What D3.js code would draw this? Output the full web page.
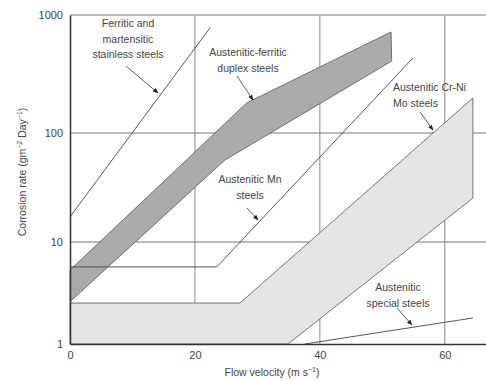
<!DOCTYPE html>
<html>
<head>
<meta charset="utf-8">
<script src="https://cdn.jsdelivr.net/npm/d3@7"></script>
<style>
  body { margin: 0; background: #fff; }
  text { font-family: "Liberation Sans", Arial, sans-serif; fill: #444; }
</style>
</head>
<body>
<div id="chart"></div>
<script>
// flow velocity (m/s) vs corrosion rate (g m-2 day-1)
const xTicks = [0, 20, 40, 60]
const yTicks = [1, 10, 100, 1000]

const ferritic = [[0, 17], [22.5, 790]]
const duplexUpper = [[0, 5.3], [28.3, 180], [51.4, 718]]
const duplexLower = [[0, 2.6], [24.8, 56.5], [51.5, 407]]
const mnSteel = [[0, 5.7], [23.5, 5.7], [54.9, 432]]
const crNiMoUpper = [[0, 2.52], [27.2, 2.52], [64.5, 198]]
const crNiMoLower = [[0, 1], [34.9, 1], [64.5, 25.3]]
const special = [[37.6, 1], [64.5, 1.8]]

const width = 486, height = 381

const svg = d3.select('#chart').append('svg')
  .attr('width', width)
  .attr('height', height)

svg.append('defs').append('marker')
  .attr('id', 'arrow')
  .attr('viewBox', '0 0 10 10')
  .attr('refX', 9).attr('refY', 5)
  .attr('markerWidth', 7).attr('markerHeight', 7)
  .attr('orient', 'auto')
  .append('path')
  .attr('d', 'M0,1 L10,5 L0,9 Z')
  .attr('fill', '#222')

const x = d3.scaleLinear().domain([0, 66.6]).range([70, 486])
// scanned figure: decades are not quite equal in height
const y = d3.scaleLog().domain([1, 10, 100, 1000]).range([344, 242, 133, 15])

const line = d3.line().x(d => x(d[0])).y(d => y(d[1]))
const band = (upper, lower) => line(upper.concat(lower.slice().reverse())) + 'Z'

// grid
svg.append('g').selectAll('line')
  .data(xTicks.slice(1))
  .enter().append('line')
  .attr('x1', d => x(d)).attr('x2', d => x(d))
  .attr('y1', y(1000)).attr('y2', y(1))
  .attr('stroke', '#888').attr('stroke-width', 1)

svg.append('g').selectAll('line')
  .data([10, 100])
  .enter().append('line')
  .attr('x1', x(0)).attr('x2', width)
  .attr('y1', d => y(d)).attr('y2', d => y(d))
  .attr('stroke', '#777').attr('stroke-width', 1)

svg.append('line')
  .attr('x1', x(0)).attr('x2', width)
  .attr('y1', y(1000)).attr('y2', y(1000))
  .attr('stroke', '#bbb').attr('stroke-width', 2)

// bands
svg.append('path')
  .attr('d', band(crNiMoUpper, crNiMoLower))
  .attr('fill', '#e4e4e4').attr('stroke', '#555').attr('stroke-width', 0.8)

svg.append('path')
  .attr('d', band(duplexUpper, duplexLower))
  .attr('fill', '#ababab').attr('stroke', '#555').attr('stroke-width', 0.8)

// lines
;[ferritic, mnSteel, special].forEach(s => {
  svg.append('path')
    .attr('d', line(s))
    .attr('fill', 'none').attr('stroke', '#444').attr('stroke-width', 0.9)
})

// axes
svg.append('g')
  .attr('transform', 'translate(0,' + y(1) + ')')
  .call(d3.axisBottom(x).tickValues(xTicks).tickSize(0).tickPadding(7))
  .call(g => g.select('.domain').attr('stroke', '#333').attr('stroke-width', 1.5))
  .call(g => g.selectAll('text').attr('font-size', 11).attr('fill', '#444'))

svg.append('g')
  .attr('transform', 'translate(' + x(0) + ',0)')
  .call(d3.axisLeft(y).tickValues(yTicks).tickFormat(d3.format('d')).tickSize(0).tickPadding(7))
  .call(g => g.select('.domain').attr('stroke', '#333').attr('stroke-width', 1.5))
  .call(g => g.selectAll('text').attr('font-size', 11).attr('fill', '#444'))

// axis titles
const xt = svg.append('text')
  .attr('x', 272).attr('y', 376)
  .attr('text-anchor', 'middle').attr('font-size', 10.5)
xt.append('tspan').text('Flow velocity (m s')
xt.append('tspan').attr('dy', -4).attr('font-size', 7).text('\u22121')
xt.append('tspan').attr('dy', 4).text(')')

const yt = svg.append('text')
  .attr('transform', 'translate(26,172) rotate(-90)')
  .attr('text-anchor', 'middle').attr('font-size', 10.5)
yt.append('tspan').text('Corrosion rate (gm')
yt.append('tspan').attr('dy', -4).attr('font-size', 7).text('\u22122')
yt.append('tspan').attr('dy', 4).text(' Day')
yt.append('tspan').attr('dy', -4).attr('font-size', 7).text('\u22121')
yt.append('tspan').attr('dy', 4).text(')')

// annotations
const notes = [
  { lines: ['Ferritic and', 'martensitic', 'stainless steels'], tx: 128, ty: 27, anchor: 'middle', from: [126, 66], to: [158, 93] },
  { lines: ['Austenitic-ferritic', 'duplex steels'], tx: 248, ty: 56, anchor: 'middle', from: [237, 76], to: [253, 100] },
  { lines: ['Austenitic Mn', 'steels'], tx: 250, ty: 183, anchor: 'middle', from: [247, 208], to: [258, 220] },
  { lines: ['Austenitic Cr-Ni', 'Mo steels'], tx: 393, ty: 91, anchor: 'start', from: [420, 112], to: [433, 130] },
  { lines: ['Austenitic', 'special steels'], tx: 398, ty: 291, anchor: 'middle', from: [397, 308], to: [412, 325] }
]

notes.forEach(n => {
  const t = svg.append('text')
    .attr('text-anchor', n.anchor)
    .attr('font-size', 10.5)
  n.lines.forEach((l, i) => {
    t.append('tspan').attr('x', n.tx).attr('y', n.ty + i * 15.5).text(l)
  })
  svg.append('line')
    .attr('x1', n.from[0]).attr('y1', n.from[1])
    .attr('x2', n.to[0]).attr('y2', n.to[1])
    .attr('stroke', '#333').attr('stroke-width', 0.8)
    .attr('marker-end', 'url(#arrow)')
})
</script>
</body>
</html>
